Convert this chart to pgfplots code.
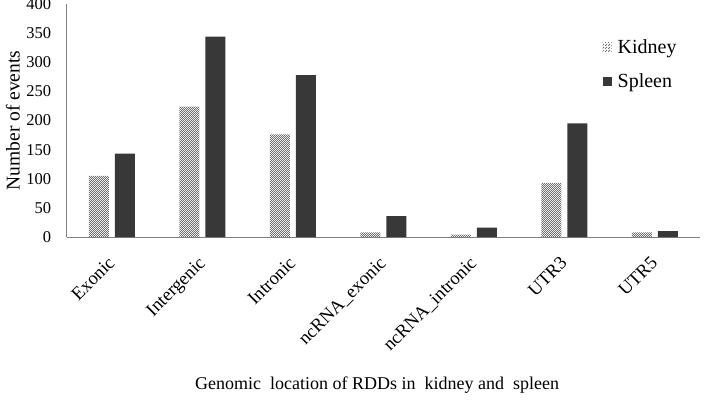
\documentclass[border=0pt]{standalone}
\usepackage{fontspec}
\setmainfont{Liberation Serif}
\usepackage{pgfplots}
\pgfplotsset{compat=1.18}
\usetikzlibrary{patterns}
\pgfdeclarepatternformonly{checker}{\pgfpointorigin}{\pgfpoint{2.4bp}{2.4bp}}{\pgfpoint{2.4bp}{2.4bp}}{%
\pgfpathrectangle{\pgfpointorigin}{\pgfpoint{1.2bp}{1.2bp}}%
\pgfpathrectangle{\pgfpoint{1.2bp}{1.2bp}}{\pgfpoint{1.2bp}{1.2bp}}%
\pgfusepath{fill}}
\definecolor{spleen}{HTML}{383838}
\definecolor{kid}{HTML}{6E6E6E}
\definecolor{axgray}{HTML}{808080}
\begin{document}
\begin{tikzpicture}
\useasboundingbox (0,0) rectangle (709bp,400bp);
\begin{axis}[
  at={(66.7bp,163bp)}, anchor=south west,
  scale only axis, width=633.3bp, height=233bp,
  ybar=6bp, bar width=20bp,
  xmin=-0.5, xmax=6.5, ymin=0, ymax=400,
  xtick=data,
  xticklabels={Exonic,Intergenic,Intronic,ncRNA\_exonic,ncRNA\_intronic,UTR3,UTR5},
  xticklabel style={xshift=-5bp, yshift=-17bp, rotate=45, anchor=north east, font=\fontsize{18.5bp}{20bp}\selectfont, inner sep=1bp},
  ytick={0,50,...,400},
  yticklabel style={font=\fontsize{16.5bp}{18bp}\selectfont, xshift=-12bp},
  /pgf/number format/assume math mode=true,
  major tick length=0pt,
  axis x line*=bottom, axis y line*=left,
  axis line style={axgray, line width=0.9pt, -},
  ylabel={Number of events},
  ylabel style={font=\fontsize{19.5bp}{21bp}\selectfont, at={(axis description cs:-0.085,0.5)}, anchor=center, rotate=0},
  xlabel={Genomic\ \ location of RDDs in\ \ kidney and\ \ spleen},
  xlabel style={font=\fontsize{18bp}{20bp}\selectfont, at={(axis description cs:0.49,0)}, anchor=base, yshift=-152bp},
  legend style={draw=none, fill=none, at={(rel axis cs:0.846,0.85)}, anchor=north west,
    font=\fontsize{20bp}{22bp}\selectfont, row sep=19bp, inner sep=0pt, nodes={inner sep=0pt, inner xsep=6bp}},
  legend cell align=left,
  legend image code/.code={\fill[#1] (0bp,-4.5bp) rectangle (9bp,4.5bp);},
  clip=false,
]
\addplot[draw=none, pattern=checker, pattern color=kid] coordinates {(0,105) (1,224) (2,176) (3,8) (4,4) (5,93) (6,8)};
\addplot[draw=none, fill=spleen] coordinates {(0,143) (1,344) (2,278) (3,36) (4,16) (5,195) (6,10)};
\legend{Kidney,Spleen}
\end{axis}
\end{tikzpicture}
\end{document}
